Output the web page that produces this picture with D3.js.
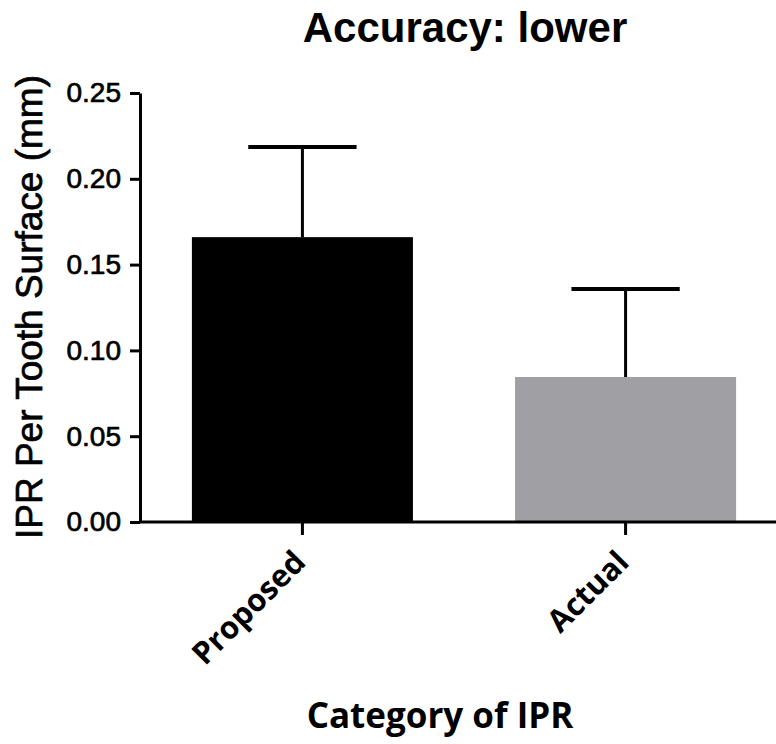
<!doctype html>
<html>
  <head>
    <meta charset="utf-8">
    <title>Accuracy: lower</title>
    <style>
    body {
      margin: 0;
      background-color: #fff;
    }
    text {
      fill: #000;
    }
    </style>
    <script src="https://cdnjs.cloudflare.com/ajax/libs/d3/7.8.5/d3.min.js"></script>
  </head>
  <body>
    <div id="chart"></div>

    <script>
      // values (mm)
      const categories = ['Proposed', 'Actual'];
      const means = [0.166, 0.0845];
      const errors = [0.0525, 0.0513];
      const yTicks = [0, 0.05, 0.10, 0.15, 0.20, 0.25];
      const barColors = ['#000000', '#a09fa4'];

      const width = 776, height = 744;

      const svg = d3.select('#chart')
        .append('svg')
        .attr('width', width)
        .attr('height', height);

      // scales
      const x = d3.scaleBand()
        .domain(categories)
        .range([146, 782])
        .paddingInner(0.316)
        .paddingOuter(0.142);

      const y = d3.scaleLinear()
        .domain([0, 0.25])
        .range([522, 93]);

      // bars
      svg.selectAll('rect.bar')
        .data(categories)
        .join('rect')
        .attr('class', 'bar')
        .attr('x', d => x(d))
        .attr('width', x.bandwidth())
        .attr('y', (d, i) => y(means[i]))
        .attr('height', (d, i) => y(0) - y(means[i]))
        .style('fill', (d, i) => barColors[i]);

      // error bars (upper only)
      const err = svg.selectAll('g.err')
        .data(categories)
        .join('g')
        .attr('class', 'err');

      err.append('line')
        .attr('x1', d => x(d) + x.bandwidth() / 2)
        .attr('x2', d => x(d) + x.bandwidth() / 2)
        .attr('y1', (d, i) => y(means[i]))
        .attr('y2', (d, i) => y(means[i] + errors[i]))
        .style('stroke', '#000')
        .style('stroke-width', 3);

      err.append('line')
        .attr('x1', d => x(d) + x.bandwidth() / 2 - x.bandwidth() * 0.245)
        .attr('x2', d => x(d) + x.bandwidth() / 2 + x.bandwidth() * 0.245)
        .attr('y1', (d, i) => y(means[i] + errors[i]))
        .attr('y2', (d, i) => y(means[i] + errors[i]))
        .style('stroke', '#000')
        .style('stroke-width', 4);

      // y axis
      const yAxis = svg.append('g')
        .attr('transform', 'translate(140,0)')
        .call(d3.axisLeft(y).tickValues(yTicks).tickFormat(d3.format('.2f'))
          .tickSize(10).tickSizeOuter(0).tickPadding(9));

      yAxis.select('.domain').style('stroke-width', 3);
      yAxis.selectAll('.tick line').style('stroke-width', 3);
      yAxis.selectAll('.tick text')
        .style('font-family', '"Liberation Sans", Arial, sans-serif')
        .style('font-size', '28px')
        .style('stroke', '#000')
        .style('stroke-width', 0.7);

      // x axis
      const xAxis = svg.append('g')
        .attr('transform', 'translate(0,522)')
        .call(d3.axisBottom(x).tickSize(13).tickSizeOuter(0));

      xAxis.select('.domain').remove();
      xAxis.selectAll('.tick line').style('stroke-width', 3);
      xAxis.selectAll('.tick text')
        .attr('x', 0)
        .attr('y', 0)
        .attr('dy', 0)
        .attr('transform', 'translate(5,42) rotate(-45)')
        .style('text-anchor', 'end')
        .style('font-family', '"Open Sans", sans-serif')
        .style('font-weight', 700)
        .style('font-size', '31px');

      svg.append('line')
        .attr('x1', 139)
        .attr('x2', width)
        .attr('y1', 522)
        .attr('y2', 522)
        .style('stroke', '#000')
        .style('stroke-width', 3);

      // titles
      svg.append('text')
        .attr('x', 465)
        .attr('y', 42)
        .text('Accuracy: lower')
        .style('text-anchor', 'middle')
        .style('font-family', '"Liberation Sans", Arial, sans-serif')
        .style('font-weight', 'bold')
        .style('font-size', '42px');

      svg.append('text')
        .attr('transform', 'translate(42,307) rotate(-90)')
        .text('IPR Per Tooth Surface (mm)')
        .style('text-anchor', 'middle')
        .style('font-family', '"Liberation Sans", Arial, sans-serif')
        .style('font-size', '37px')
        .style('stroke', '#000')
        .style('stroke-width', 0.7);

      svg.append('text')
        .attr('x', 440)
        .attr('y', 728)
        .text('Category of IPR')
        .style('text-anchor', 'middle')
        .style('font-family', '"Open Sans", sans-serif')
        .style('font-weight', 700)
        .style('font-size', '35px');
    </script>
  </body>
</html>
